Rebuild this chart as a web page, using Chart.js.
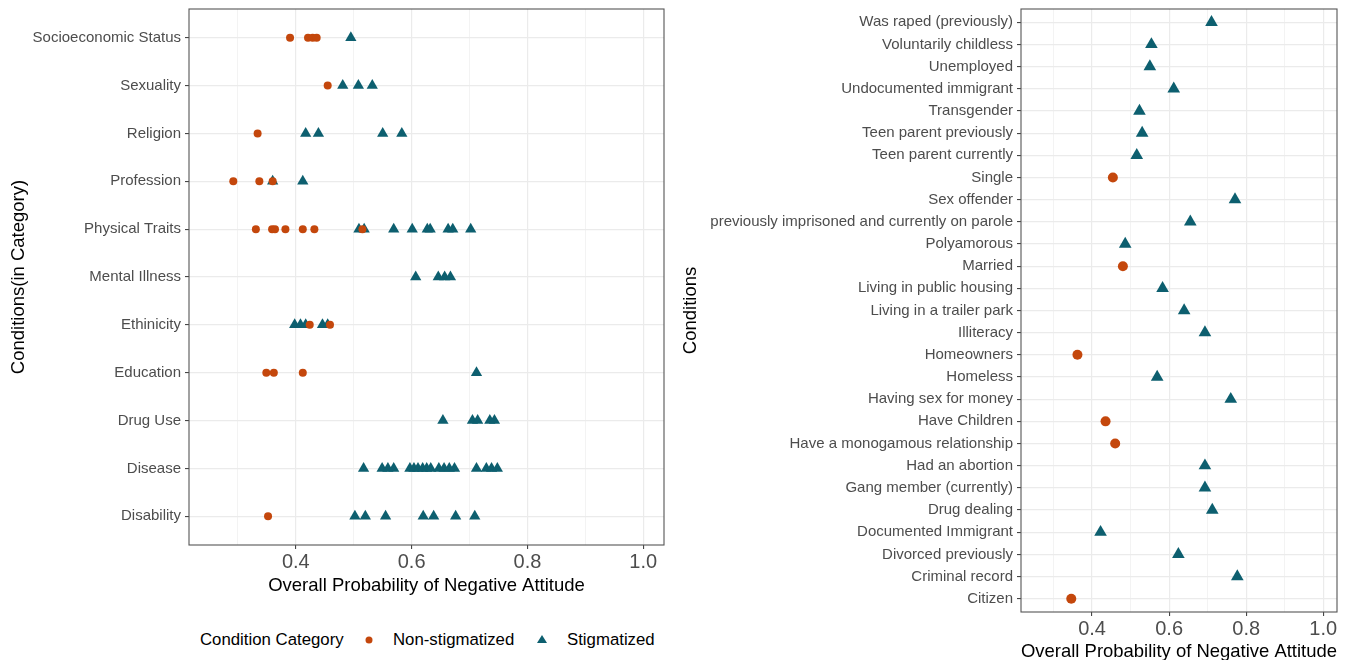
<!DOCTYPE html>
<html>
<head>
<meta charset="utf-8">
<script src="https://cdn.jsdelivr.net/npm/chart.js@4.4.1/dist/chart.umd.min.js"></script>
<style>
  body { margin: 0; width: 1348px; height: 660px; overflow: hidden; position: relative; background: #fff;
         font-family: "Liberation Sans", Arial, Helvetica, sans-serif; }
  #left { position: absolute; left: 0; top: 0; }
  #right { position: absolute; left: 672px; top: 0; }
  .lg { position: absolute; top: 630px; font-size: 16.8px; color: #000; line-height: 20px; white-space: nowrap; }
</style>
</head>
<body>
<canvas id="left" width="672" height="612"></canvas>
<canvas id="right" width="676" height="680"></canvas>

<span class="lg" style="left:200px">Condition Category</span>
<svg class="lg" style="left:364px;top:635px" width="10" height="10"><circle cx="5" cy="5" r="3.5" fill="#C4470C"/></svg>
<span class="lg" style="left:393px">Non-stigmatized</span>
<svg class="lg" style="left:536px;top:634px" width="12" height="10"><polygon points="6,1 11,9 1,9" fill="#0D5F6F"/></svg>
<span class="lg" style="left:567px">Stigmatized</span>

<script>
// left panel: categories top to bottom
const categories = ['Socioeconomic Status', 'Sexuality', 'Religion', 'Profession', 'Physical Traits',
  'Mental Illness', 'Ethinicity', 'Education', 'Drug Use', 'Disease', 'Disability'];

const nonStigByCategory = [
  [0.390, 0.421, 0.429, 0.436],
  [0.455],
  [0.334],
  [0.292, 0.337, 0.360],
  [0.331, 0.359, 0.364, 0.382, 0.412, 0.432, 0.515],
  [],
  [0.424, 0.459],
  [0.349, 0.362, 0.412],
  [],
  [],
  [0.352]
];

const stigByCategory = [
  [0.495],
  [0.481, 0.508, 0.532],
  [0.417, 0.439, 0.550, 0.583],
  [0.360, 0.412],
  [0.509, 0.518, 0.569, 0.601, 0.627, 0.632, 0.663, 0.671, 0.702],
  [0.607, 0.646, 0.657, 0.667],
  [0.398, 0.408, 0.417, 0.446, 0.455],
  [0.712],
  [0.654, 0.705, 0.714, 0.735, 0.743],
  [0.517, 0.549, 0.559, 0.569, 0.597, 0.604, 0.611, 0.619, 0.626, 0.633, 0.647, 0.656, 0.665, 0.674, 0.712, 0.729, 0.738, 0.748],
  [0.502, 0.520, 0.555, 0.620, 0.638, 0.676, 0.709]
];

// right panel: single conditions top to bottom
const conditions = ['Was raped (previously)', 'Voluntarily childless', 'Unemployed', 'Undocumented immigrant',
  'Transgender', 'Teen parent previously', 'Teen parent currently', 'Single', 'Sex offender',
  'previously imprisoned and currently on parole', 'Polyamorous', 'Married', 'Living in public housing',
  'Living in a trailer park', 'Illiteracy', 'Homeowners', 'Homeless', 'Having sex for money', 'Have Children',
  'Have a monogamous relationship', 'Had an abortion', 'Gang member (currently)', 'Drug dealing',
  'Documented Immigrant', 'Divorced previously', 'Criminal record', 'Citizen'];
const conditionProb = [0.710, 0.554, 0.550, 0.612, 0.523, 0.530, 0.516, 0.454, 0.771, 0.655, 0.486, 0.480, 0.583,
  0.639, 0.693, 0.362, 0.569, 0.760, 0.435, 0.460, 0.693, 0.693, 0.712, 0.422, 0.624, 0.777, 0.346];
const conditionGroup = ['S', 'S', 'S', 'S', 'S', 'S', 'S', 'N', 'S', 'S', 'S', 'N', 'S', 'S', 'S', 'N', 'S', 'S', 'N',
  'N', 'S', 'S', 'S', 'S', 'S', 'S', 'N'];

const xGridTicks = [0.3, 0.4, 0.5, 0.6, 0.7, 0.8, 0.9, 1.0];
const xLabelTicks = [0.4, 0.6, 0.8, 1.0];
const xMin = 0.2155, xMax = 1.0358;

const RED = '#C4470C';
const TEAL = '#0D5F6F';

Chart.defaults.font.family = '"Liberation Sans", Arial, Helvetica, sans-serif';
Chart.defaults.color = '#4d4d4d';

const panelBorder = {
  id: 'panelBorder',
  afterDraw(chart) {
    const a = chart.chartArea, ctx = chart.ctx;
    ctx.save();
    ctx.strokeStyle = '#555';
    ctx.lineWidth = 1.1;
    ctx.strokeRect(a.left, a.top, a.right - a.left, a.bottom - a.top);
    ctx.restore();
  }
};

function isMajor(v) {
  return xLabelTicks.some(t => Math.abs(t - v) < 1e-6);
}

function makeOptions(labels, yTitle, yWidth, xHeight, tickPad, titlePad, padRight) {
  return {
    responsive: false,
    animation: false,
    events: [],
    layout: { padding: { left: 0, right: padRight, top: 9, bottom: 0 } },
    plugins: { legend: { display: false }, tooltip: { enabled: false } },
    scales: {
      x: {
        type: 'linear', min: xMin, max: xMax,
        afterBuildTicks: s => { s.ticks = xGridTicks.map(v => ({ value: v })); },
        afterFit: s => { s.height = xHeight; s.paddingLeft = 0; s.paddingRight = 0; },
        ticks: {
          autoSkip: false, maxRotation: 0, padding: tickPad,
          font: { size: 20 }, color: '#4d4d4d',
          callback: v => isMajor(v) ? v.toFixed(1) : ''
        },
        grid: {
          color: '#ebebeb',
          lineWidth: c => isMajor(c.tick.value) ? 1.2 : 0.6,
          tickColor: c => isMajor(c.tick.value) ? '#333' : 'rgba(0,0,0,0)',
          tickLength: 4, tickWidth: 1
        },
        border: { display: false },
        title: {
          display: true, text: 'Overall Probability of Negative Attitude',
          font: { size: 18.5 }, color: '#000', padding: { top: 0, bottom: titlePad }
        }
      },
      y: {
        type: 'linear', reverse: true, min: 0.4, max: labels.length + 0.6,
        afterBuildTicks: s => { s.ticks = labels.map((l, i) => ({ value: i + 1 })); },
        afterFit: s => { s.width = yWidth; s.paddingTop = 0; s.paddingBottom = 0; },
        ticks: {
          autoSkip: false, padding: 4, font: { size: 15 }, color: '#4d4d4d',
          callback: v => labels[Math.round(v) - 1]
        },
        grid: { color: '#ebebeb', lineWidth: 1.2, tickColor: '#333', tickLength: 4, tickWidth: 1 },
        border: { display: false },
        title: {
          display: true, text: yTitle, font: { size: 18.5 }, color: '#000', padding: { top: 7.5, bottom: 0 }
        }
      }
    }
  };
}

// left chart
const leftNon = [];
const leftStig = [];
categories.forEach((c, i) => {
  nonStigByCategory[i].forEach(v => leftNon.push({ x: v, y: i + 1 }));
  stigByCategory[i].forEach(v => leftStig.push({ x: v, y: i + 1 }));
});

new Chart(document.getElementById('left'), {
  type: 'scatter',
  data: {
    datasets: [
      { label: 'Non-stigmatized', data: leftNon, pointStyle: 'circle', pointRadius: 4,
        backgroundColor: RED, borderWidth: 0, order: 0 },
      { label: 'Stigmatized', data: leftStig, pointStyle: 'triangle', pointRadius: 6.5,
        backgroundColor: TEAL, borderWidth: 0, order: 1 }
    ]
  },
  options: makeOptions(categories, 'Conditions(in Category)', 189, 67, 1, 15, 8),
  plugins: [panelBorder]
});

// right chart
const rightNon = [];
const rightStig = [];
conditions.forEach((c, i) => {
  const p = { x: conditionProb[i], y: i + 1 };
  if (conditionGroup[i] === 'N') rightNon.push(p); else rightStig.push(p);
});

new Chart(document.getElementById('right'), {
  type: 'scatter',
  data: {
    datasets: [
      { label: 'Non-stigmatized', data: rightNon, pointStyle: 'circle', pointRadius: 5,
        backgroundColor: RED, borderWidth: 0, order: 0 },
      { label: 'Stigmatized', data: rightStig, pointStyle: 'triangle', pointRadius: 7.3,
        backgroundColor: TEAL, borderWidth: 0, order: 1 }
    ]
  },
  options: makeOptions(conditions, 'Conditions', 349, 68, 1.5, 17, 11),
  plugins: [panelBorder]
});
</script>
</body>
</html>
